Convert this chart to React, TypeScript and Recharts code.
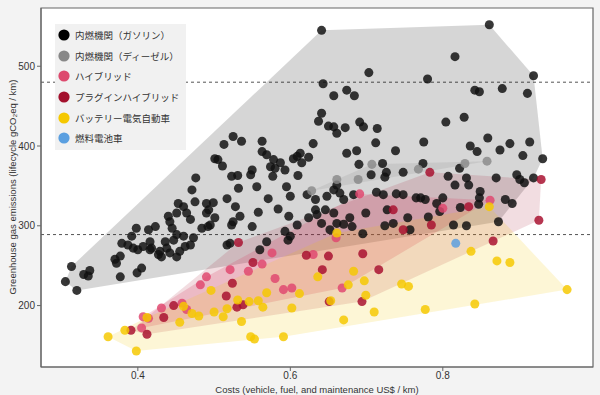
import React from "react"
import { CartesianGrid, Label, Legend, ReferenceArea, ReferenceLine, Scatter, ScatterChart, XAxis, YAxis, ZAxis } from "recharts"

type Pt = [number, number]

// [cost US$/km, lifecycle gCO2eq/km]
const gasoline: Pt[] = [
  [0.313, 249], [0.305, 230], [0.320, 219], [0.329, 239], [0.337, 244], [0.335, 237], [0.370, 258], [0.377, 262],
  [0.372, 253], [0.377, 236], [0.399, 241], [0.405, 247], [0.379, 278], [0.392, 287], [0.398, 297], [0.394, 272],
  [0.400, 270], [0.387, 276], [0.414, 295], [0.423, 299], [0.418, 272], [0.416, 280], [0.431, 261], [0.429, 268],
  [0.438, 272], [0.436, 280], [0.447, 282], [0.451, 261], [0.455, 268], [0.462, 274], [0.460, 287], [0.451, 289],
  [0.445, 297], [0.442, 305], [0.440, 312], [0.451, 316], [0.453, 328], [0.460, 324], [0.464, 316], [0.469, 308],
  [0.475, 330], [0.471, 345], [0.476, 360], [0.484, 297], [0.473, 285], [0.469, 276], [0.490, 328], [0.490, 316],
  [0.492, 299], [0.499, 329], [0.493, 320], [0.501, 310], [0.495, 301], [0.517, 334], [0.528, 324], [0.534, 312],
  [0.525, 305], [0.523, 301], [0.550, 299], [0.521, 278], [0.517, 276], [0.569, 280], [0.407, 274], [0.416, 270],
  [0.427, 264], [0.442, 266], [0.560, 270], [0.597, 282], [0.525, 412], [0.513, 402], [0.536, 406], [0.563, 406],
  [0.501, 384], [0.505, 383], [0.511, 375], [0.563, 393], [0.569, 389], [0.578, 383], [0.574, 374], [0.587, 379],
  [0.593, 370], [0.604, 384], [0.609, 387], [0.613, 391], [0.624, 386], [0.615, 379], [0.531, 363], [0.548, 364],
  [0.556, 349], [0.577, 362], [0.580, 372], [0.595, 349], [0.600, 337], [0.610, 363], [0.550, 370], [0.523, 362],
  [0.532, 347], [0.571, 334], [0.584, 321], [0.558, 317], [0.598, 312], [0.609, 301], [0.593, 293], [0.600, 287],
  [0.622, 339], [0.633, 333], [0.648, 337], [0.657, 345], [0.661, 351], [0.665, 341], [0.670, 333], [0.683, 339],
  [0.633, 320], [0.646, 320], [0.657, 316], [0.624, 310], [0.635, 314], [0.641, 303], [0.661, 303], [0.670, 302],
  [0.678, 310], [0.681, 299], [0.652, 295], [0.641, 545], [0.861, 552], [0.816, 512], [0.703, 492], [0.780, 484],
  [0.919, 488], [0.643, 478], [0.674, 470], [0.684, 463], [0.657, 463], [0.842, 470], [0.848, 468], [0.878, 472],
  [0.911, 466], [0.641, 441], [0.637, 431], [0.650, 425], [0.657, 424], [0.661, 416], [0.672, 423], [0.691, 430],
  [0.696, 424], [0.714, 422], [0.804, 430], [0.828, 436], [0.630, 403], [0.674, 391], [0.687, 394], [0.712, 404],
  [0.738, 394], [0.775, 405], [0.836, 400], [0.845, 393], [0.859, 410], [0.875, 395], [0.888, 403], [0.914, 405],
  [0.905, 388], [0.931, 384], [0.690, 377], [0.721, 378], [0.774, 378], [0.822, 372], [0.706, 364], [0.726, 367],
  [0.748, 367], [0.807, 362], [0.831, 360], [0.834, 351], [0.816, 351], [0.870, 360], [0.897, 364], [0.901, 358],
  [0.919, 360], [0.907, 354], [0.713, 342], [0.722, 339], [0.739, 340], [0.748, 339], [0.765, 335], [0.771, 335],
  [0.777, 333], [0.792, 328], [0.800, 335], [0.823, 323], [0.849, 343], [0.848, 335], [0.847, 327], [0.882, 333],
  [0.891, 328], [0.699, 316], [0.727, 320], [0.754, 310], [0.757, 295], [0.781, 311], [0.814, 301], [0.831, 300],
  [0.873, 305], [0.724, 300], [0.735, 303], [0.695, 290], [0.796, 318], [0.724, 361],
]

const diesel: Pt[] = [
  [0.628, 344], [0.661, 358], [0.689, 358], [0.707, 377], [0.768, 371], [0.829, 378], [0.858, 381],
]

const hybrid: Pt[] = [
  [0.405, 172], [0.407, 186], [0.414, 184], [0.431, 197], [0.458, 203], [0.464, 195], [0.482, 226], [0.490, 236],
  [0.521, 245], [0.545, 243], [0.563, 252], [0.576, 266], [0.580, 234], [0.591, 220], [0.602, 222], [0.630, 264],
  [0.660, 285], [0.668, 222], [0.691, 340], [0.800, 322], [0.862, 332],
]

const plugin: Pt[] = [
  [0.391, 169], [0.412, 164], [0.434, 185], [0.447, 200], [0.516, 212], [0.524, 228], [0.530, 198], [0.538, 201],
  [0.551, 254], [0.532, 279], [0.621, 263], [0.650, 262], [0.695, 265], [0.642, 245], [0.716, 245], [0.651, 205],
  [0.694, 205], [0.866, 281], [0.926, 307], [0.748, 295], [0.785, 301], [0.834, 324], [0.735, 320], [0.783, 367],
  [0.929, 358],
]

const bev: Pt[] = [
  [0.361, 161], [0.383, 169], [0.398, 143], [0.412, 185], [0.455, 179], [0.460, 199], [0.471, 190], [0.480, 187],
  [0.496, 219], [0.500, 192], [0.512, 186], [0.517, 196], [0.531, 207], [0.536, 180], [0.546, 205], [0.558, 206],
  [0.564, 198], [0.569, 216], [0.548, 161], [0.553, 158], [0.591, 161], [0.602, 197], [0.612, 215], [0.636, 236],
  [0.661, 291], [0.683, 243], [0.697, 231], [0.676, 226], [0.699, 213], [0.653, 206], [0.710, 192], [0.670, 182],
  [0.746, 227], [0.755, 224], [0.777, 195], [0.842, 202], [0.837, 268], [0.871, 256], [0.888, 254], [0.963, 220],
  [0.861, 324],
]

const fuelCell: Pt[] = [[0.817, 278]]

const xTicks = [0.4, 0.6, 0.8]
const yTicks = [200, 300, 400, 500]
const xDomain: [number, number] = [0.273, 0.997]
const yDomain: [number, number] = [123, 573]
const thresholds = [480, 289]

const series = [
  { name: "内燃機関（ガソリン）", color: "#000000", point: "#111111", hullOpacity: 0.16, data: gasoline },
  { name: "内燃機関（ディーゼル）", color: "#888888", point: "#8a8a8a", hullOpacity: 0.18, data: diesel },
  { name: "ハイブリッド", color: "#dd4a6e", point: "#e0486f", hullOpacity: 0.22, data: hybrid },
  { name: "プラグインハイブリッド", color: "#a3102d", point: "#a8102f", hullOpacity: 0.14, data: plugin },
  { name: "バッテリー電気自動車", color: "#f5c800", point: "#f5c800", hullOpacity: 0.16, data: bev },
  { name: "燃料電池車", color: "#5a9fe0", point: "#5a9fe0", hullOpacity: 0, data: fuelCell },
]

const latin = '"Liberation Sans", Arial, sans-serif'
const cjk = '"Noto Sans CJK JP", "Noto Sans", sans-serif'

const toRows = (pts: Pt[]) => pts.map(([x, y]) => ({ x, y }))

// convex hull (monotone chain) of a category's points
function convexHull(pts: Pt[]): Pt[] {
  const p = [...pts].sort((a, b) => a[0] - b[0] || a[1] - b[1])
  if (p.length < 3) return p
  const cross = (o: Pt, a: Pt, b: Pt) => (a[0] - o[0]) * (b[1] - o[1]) - (a[1] - o[1]) * (b[0] - o[0])
  const lower: Pt[] = []
  for (const q of p) {
    while (lower.length >= 2 && cross(lower[lower.length - 2], lower[lower.length - 1], q) <= 0) lower.pop()
    lower.push(q)
  }
  const upper: Pt[] = []
  for (let i = p.length - 1; i >= 0; i--) {
    const q = p[i]
    while (upper.length >= 2 && cross(upper[upper.length - 2], upper[upper.length - 1], q) <= 0) upper.pop()
    upper.push(q)
  }
  lower.pop()
  upper.pop()
  return lower.concat(upper)
}

function LegendBox() {
  return (
    <div
      style={{
        width: 131,
        boxSizing: "border-box",
        background: "#f1f1f1",
        padding: "1px 0 1px 3px",
        fontFamily: cjk,
        fontSize: 9.5,
        color: "#333",
      }}
    >
      {series.map((s) => (
        <div key={s.name} style={{ display: "flex", alignItems: "center", height: 20.6 }}>
          <svg width={12} height={12} style={{ marginRight: 5, flex: "none" }}>
            <circle cx={6} cy={6} r={5.6} fill={s.color} />
          </svg>
          <span style={{ whiteSpace: "nowrap" }}>{s.name}</span>
        </div>
      ))}
    </div>
  )
}

export default function App() {
  return (
    <div style={{ width: 600, height: 395 }}>
      <style>{`body{margin:0;background:#f3f3f3}`}</style>
      <ScatterChart width={600} height={395} margin={{ top: 8, right: 7, bottom: 0, left: 0 }}>
        <CartesianGrid horizontal={false} vertical={false} fill="#ffffff" />
        <XAxis
          type="number"
          dataKey="x"
          domain={xDomain}
          ticks={xTicks}
          height={28}
          tickSize={4}
          tickMargin={1}
          stroke="#666"
          tick={{ fontSize: 10, fill: "#333", fontFamily: latin }}
        >
          <Label
            content={() => (
              <text x={317} y={389} textAnchor="middle" dominantBaseline="central" fontSize={9.5} fill="#333" fontFamily={latin}>
                Costs (vehicle, fuel, and maintenance US$ / km)
              </text>
            )}
          />
        </XAxis>
        <YAxis
          type="number"
          dataKey="y"
          domain={yDomain}
          ticks={yTicks}
          width={41}
          tickSize={4}
          stroke="#666"
          tick={{ fontSize: 10, fill: "#333", fontFamily: latin }}
        >
          <Label
            content={() => (
              <text
                x={12}
                y={187}
                transform="rotate(-90 12 187)"
                textAnchor="middle"
                dominantBaseline="central"
                fontSize={9.5}
                fill="#333"
                fontFamily={latin}
              >
                Greenhouse gas emissions (lifecycle gCO₂eq / km)
              </text>
            )}
          />
        </YAxis>
        <ZAxis range={[98, 98]} />
        {series
          .filter((s) => s.hullOpacity > 0)
          .map((s) => (
            <Scatter
              key={"hull-" + s.name}
              data={toRows(convexHull(s.data))}
              isAnimationActive={false}
              legendType="none"
              lineType="joint"
              shape={() => <g />}
              line={(p: any) => (
                <path
                  d={p.points.map((q: any, i: number) => `${i ? "L" : "M"}${q.x},${q.y}`).join(" ") + " Z"}
                  fill={s.color}
                  fillOpacity={s.hullOpacity}
                  stroke="none"
                />
              )}
            />
          ))}
        {thresholds.map((t) => (
          <ReferenceLine key={t} y={t} stroke="#555" strokeDasharray="3 3" strokeWidth={1} />
        ))}
        {series.map((s) => (
          <Scatter
            key={s.name}
            name={s.name}
            data={toRows(s.data)}
            fill={s.point}
            fillOpacity={0.84}
            isAnimationActive={false}
          />
        ))}
        <ReferenceArea x1={xDomain[0]} x2={xDomain[1]} y1={yDomain[0]} y2={yDomain[1]} fill="none" stroke="#666" strokeWidth={1.2} />
        <Legend
          layout="vertical"
          align="center"
          verticalAlign="middle"
          content={() => <LegendBox />}
          wrapperStyle={{ top: 24, left: 55, width: 131 }}
        />
      </ScatterChart>
    </div>
  )
}
